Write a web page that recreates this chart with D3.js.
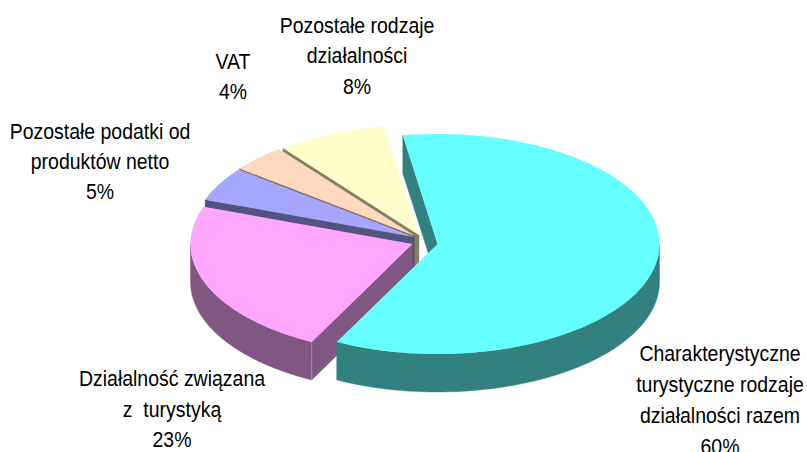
<!DOCTYPE html>
<html><head><meta charset="utf-8">
<script src="https://cdn.jsdelivr.net/npm/d3@7"></script>
<style>html,body{margin:0;padding:0;background:#fff;overflow:hidden}svg{display:block}text{font-family:"Liberation Sans",Arial,sans-serif;font-size:22px;fill:#000;white-space:pre}</style>
</head><body><svg id="c" width="807" height="452"></svg>
<script>
const categories = ["Charakterystyczne turystyczne rodzaje działalności razem","Działalność związana z turystyką","Pozostałe podatki od produktów netto","VAT","Pozostałe rodzaje działalności"];
const values = [60,23,5,4,8];
const topColors = ["#66FFFF","#FFA6FF","#A6A6FF","#FFD9BF","#FFFFCC"];
const wallColors = ["#338080","#825682","#535380","#806C5F","#808066"];
const apexX = [437.5,412.5,414,415,419];
const apexY = [244,244,237,236,235];
const labelLines = [
  ["Charakterystyczne","turystyczne rodzaje","działalności razem","60%"],
  ["Działalność związana","z  turystyką","23%"],
  ["Pozostałe podatki od","produktów netto","5%"],
  ["VAT","4%"],
  ["Pozostałe rodzaje","działalności","8%"]];
const labelX = [720,172,100,233,357];
const labelY = [361,386,139,69,33];
const lineGaps = [31,30.7,30,30,30.5];

const rx=222, ry=110, depth=38, deg=Math.PI/180, textSquash=0.885;
const svg=d3.select("#c");
const arcs=d3.pie().sort(null).startAngle(-9*deg).endAngle(351*deg)(values);
const line=d3.line();
const sample=(a0,a1)=>{const n=Math.max(2,Math.ceil(Math.abs(a1-a0)/deg));return d3.range(n+1).map(i=>a0+(a1-a0)*i/n);};
const px=(i,a,dz=0)=>[apexX[i]+rx*Math.sin(a),apexY[i]-ry*Math.cos(a)+dz];

const order=[4,3,2,1,0];
order.forEach(i=>{
  const d=arcs[i], g=svg.append("g");
  const wall=pts=>g.append("path").attr("d",line(pts)+"Z").attr("fill",wallColors[i]).attr("stroke",wallColors[i]).attr("stroke-width",0.4);
  if(Math.sin(d.startAngle)<0) wall([[apexX[i],apexY[i]],px(i,d.startAngle),px(i,d.startAngle,depth),[apexX[i],apexY[i]+depth]]);
  if(Math.sin(d.endAngle)>0) wall([[apexX[i],apexY[i]],px(i,d.endAngle),px(i,d.endAngle,depth),[apexX[i],apexY[i]+depth]]);
  const a0=Math.max(d.startAngle,90*deg), a1=Math.min(d.endAngle,270*deg);
  if(a1>a0){
    const s=sample(a0,a1);
    wall(s.map(a=>px(i,a)).concat(s.slice().reverse().map(a=>px(i,a,depth))));
  }
  if(i===1){
    const p=px(i,d.startAngle);
    g.append("line").attr("x1",p[0]).attr("y1",p[1]).attr("x2",p[0]).attr("y2",p[1]+depth).attr("stroke","#B08AB0").attr("stroke-width",1);
  }
  const s=sample(d.startAngle,d.endAngle);
  g.append("path").attr("d",line([[apexX[i],apexY[i]]].concat(s.map(a=>px(i,a))))+"Z").attr("fill",topColors[i]);
});
labelLines.forEach((ls,i)=>{
  const t=svg.append("text").attr("text-anchor","middle").attr("transform",`translate(${labelX[i]},${labelY[i]}) scale(${textSquash},1)`);
  ls.forEach((l,j)=>t.append("tspan").attr("x",0).attr("y",j*lineGaps[i]).text(l));
});
</script></body></html>
